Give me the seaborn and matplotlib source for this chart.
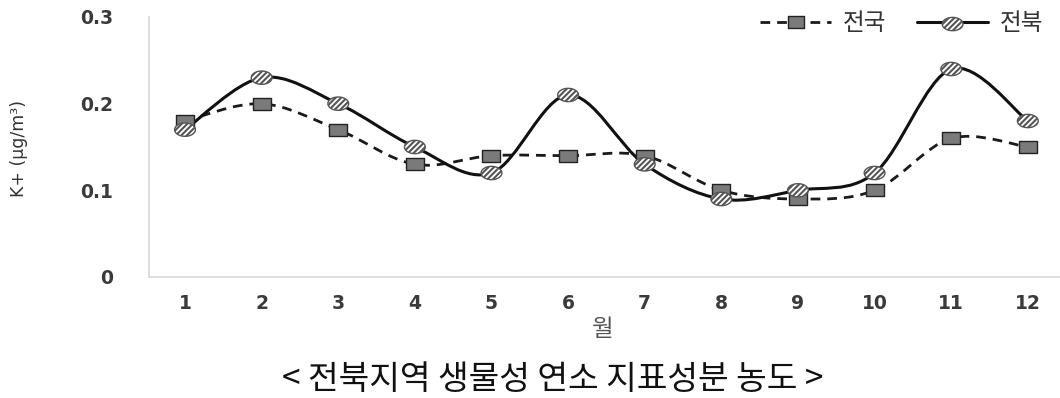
import numpy as np
import pandas as pd
import seaborn as sns
import matplotlib
matplotlib.use("Agg")
import matplotlib.pyplot as plt
from matplotlib.path import Path
from matplotlib.patches import PathPatch
from matplotlib.lines import Line2D
from matplotlib.legend_handler import HandlerTuple

months = [1, 2, 3, 4, 5, 6, 7, 8, 9, 10, 11, 12]
national = [0.18, 0.20, 0.17, 0.13, 0.14, 0.14, 0.14, 0.10, 0.09, 0.10, 0.16, 0.15]
jeonbuk = [0.17, 0.23, 0.20, 0.15, 0.12, 0.21, 0.13, 0.09, 0.10, 0.12, 0.24, 0.18]
series_names = ["전국", "전북"]
yticks = [0, 0.1, 0.2, 0.3]
ytick_labels = ["0", "0.1", "0.2", "0.3"]

sns.set_theme(style="white")
plt.rcParams['font.family'] = ['Noto Sans CJK KR', 'DejaVu Sans']
plt.rcParams['hatch.linewidth'] = 1.5
plt.rcParams['hatch.color'] = '#666666'

fig = plt.figure(figsize=(10.6, 3.98), dpi=100)
ax = fig.add_axes([149/1060, 1-277/398, 1-149/1060, (277-17)/398])

def smooth_path(xs, ys):
    pts = np.column_stack([xs, ys]).astype(float)
    n = len(pts)
    verts = [pts[0]]
    codes = [Path.MOVETO]
    for i in range(n - 1):
        p0 = pts[i - 1] if i > 0 else pts[i]
        p1 = pts[i]
        p2 = pts[i + 1]
        p3 = pts[i + 2] if i + 2 < n else pts[i + 1]
        c1 = p1 + (p2 - p0) / 6.0
        c2 = p2 - (p3 - p1) / 6.0
        verts += [c1, c2, p2]
        codes += [Path.CURVE4] * 3
    return Path(verts, codes)

ax.add_patch(PathPatch(smooth_path(months, national), fill=False, edgecolor='#1a1a1a',
                       lw=2.0, linestyle=(0, (3.5, 2.5)), zorder=2))
ax.add_patch(PathPatch(smooth_path(months, jeonbuk), fill=False, edgecolor='#111111',
                       lw=2.2, zorder=2))

t = np.linspace(0, 2*np.pi, 40)
ellipse = Path(np.column_stack([np.cos(t), 0.64*np.sin(t)]), closed=True)
rect = Path([(-1, -0.72), (1, -0.72), (1, 0.72), (-1, 0.72), (-1, -0.72)], closed=True)

df = pd.DataFrame({"month": months * 2, "value": national + jeonbuk,
                   "series": [series_names[0]] * 12 + [series_names[1]] * 12})

sns.scatterplot(data=df[df.series == series_names[0]], x="month", y="value", ax=ax,
                marker=rect, s=150, color='#7a7a7a', edgecolor='#222222',
                linewidth=1.0, zorder=3, legend=False)
sns.scatterplot(data=df[df.series == series_names[1]], x="month", y="value", ax=ax,
                marker=ellipse, s=225, color='white', edgecolor='#555555',
                linewidth=1.0, hatch='//////', zorder=4, legend=False)
ci_coll = ax.collections[-1]

ax.set_xlim(0.53, 12.42)
ax.set_ylim(0, 0.3)
ax.set_xticks(months)
ax.set_xticklabels([str(m) for m in months])
ax.set_yticks(yticks)
ax.set_yticklabels(ytick_labels)
for lab in ax.get_xticklabels() + ax.get_yticklabels():
    lab.set_family('DejaVu Sans')
    lab.set_fontweight('bold')
    lab.set_fontsize(13.5)
    lab.set_color('#3a3a3a')
ax.tick_params(axis='x', length=0, pad=12)
ax.tick_params(axis='y', length=0, pad=26)
for s in ['top', 'right']:
    ax.spines[s].set_visible(False)
for s in ['left', 'bottom']:
    ax.spines[s].set_color('#d9d9d9')
    ax.spines[s].set_linewidth(1.2)
ax.set_xlabel("")
ax.set_ylabel("")
ax.grid(False)

fig.text(19/1060, 1-148/398, "K+ (μg/m³)", rotation=90, ha='center', va='center',
         fontsize=12.5, color='#333333', family=['Liberation Sans Narrow', 'DejaVu Sans'])
fig.text(603/1060, 1-330/398, "월", ha='center', va='center', fontsize=17, color='#555555')
fig.text(553/1060, 1-380/398, "< 전북지역 생물성 연소 지표성분 농도 >", ha='center', va='center',
         fontsize=24, color='#111111')

h1_line = Line2D([], [], color='#1a1a1a', lw=2.0, linestyle=(0, (3.5, 2.5)))
h1_mk = Line2D([], [], linestyle='none', marker=rect, markersize=12, markerfacecolor='#7a7a7a',
               markeredgecolor='#222222', markeredgewidth=1.0)
h2_line = Line2D([], [], color='#111111', lw=2.2)
leg = ax.legend([(h1_line, h1_mk), (h2_line, ci_coll)], series_names,
                handler_map={tuple: HandlerTuple(ndivide=1, pad=0)},
                loc='upper right', bbox_to_anchor=(1.005, 1.1), ncol=2, frameon=False,
                fontsize=17, handlelength=3.0, columnspacing=1.3, handletextpad=0.5,
                labelcolor='#333333')

fig.savefig("out.png", dpi=100)
